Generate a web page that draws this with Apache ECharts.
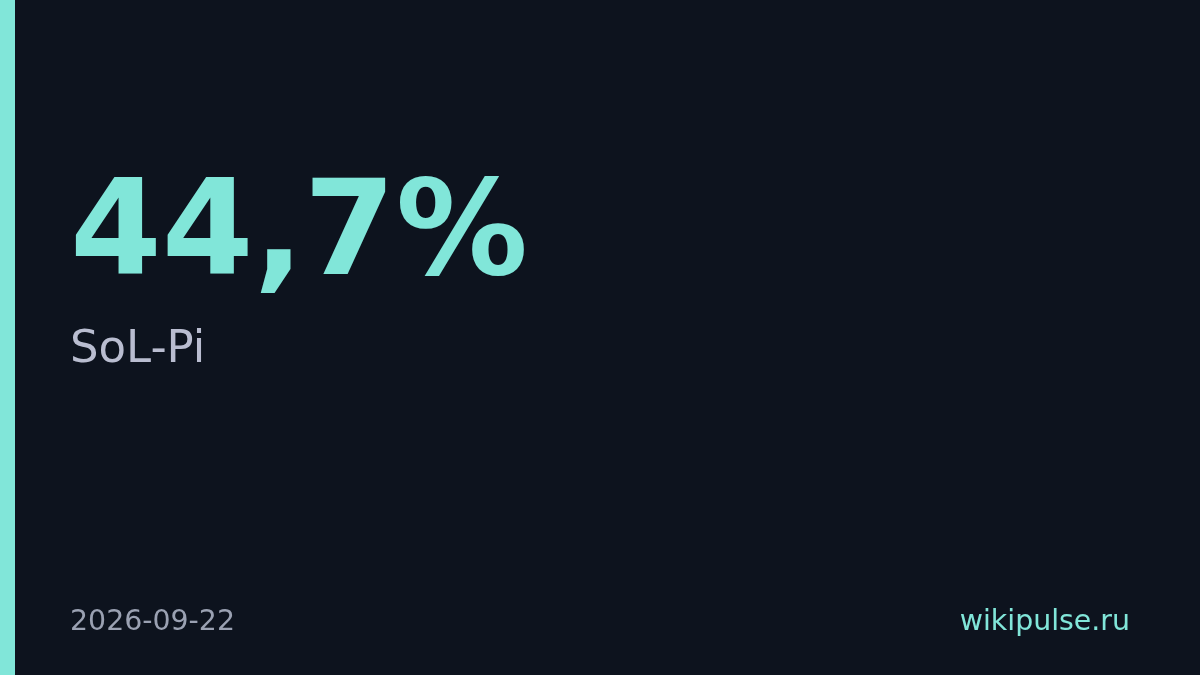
<!DOCTYPE html>
<html>
<head>
<meta charset="utf-8">
<script src="https://cdn.jsdelivr.net/npm/echarts@6/dist/echarts.min.js"></script>
<style>
html,body{margin:0;padding:0;background:#0d131e;}
#chart{width:1200px;height:675px;}
</style>
</head>
<body>
<div id="chart"></div>
<script>
// card content
var statValue = ["44,7%"];
var statLabel = ["SoL-Pi"];
var statDate = ["2026-09-22"];
var statSource = ["wikipulse.ru"];

var accent = "#81e6d9";
var font = "DejaVu Sans";

var chart = echarts.init(document.getElementById("chart"));
var option = {
	backgroundColor: "#0d131e",
	graphic: [
		{
			type: "rect",
			shape: {x: 0, y: 0, width: 15, height: 675},
			style: {fill: accent}
		},
		{
			type: "text",
			x: 70, y: 240,
			style: {
				text: statValue[0],
				fill: accent,
				font: "bold 132px '" + font + "'",
				textAlign: "left",
				textVerticalAlign: "middle"
			}
		},
		{
			type: "text",
			x: 70, y: 350,
			style: {
				text: statLabel[0],
				fill: "#b9bdd0",
				font: "45px '" + font + "'",
				textAlign: "left",
				textVerticalAlign: "middle"
			}
		},
		{
			type: "text",
			x: 70, y: 623,
			style: {
				text: statDate[0],
				fill: "#9aa1b2",
				font: "28.4px '" + font + "'",
				textAlign: "left",
				textVerticalAlign: "middle"
			}
		},
		{
			type: "text",
			x: 1130, y: 623,
			style: {
				text: statSource[0],
				fill: accent,
				font: "28.4px '" + font + "'",
				textAlign: "right",
				textVerticalAlign: "middle"
			}
		}
	]
};
chart.setOption(option);
</script>
</body>
</html>
